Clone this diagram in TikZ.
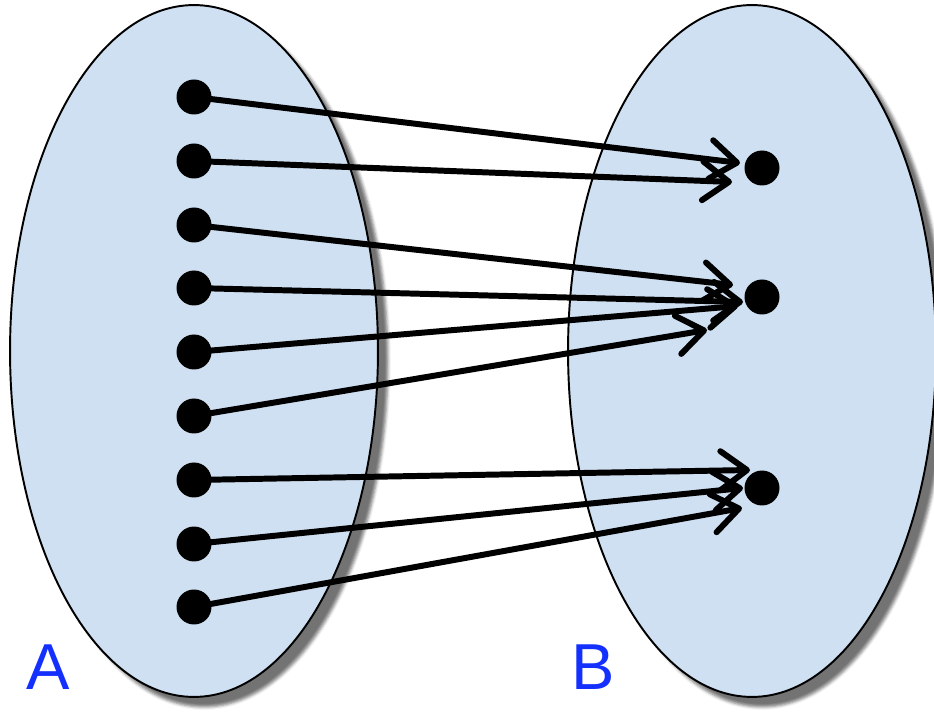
\documentclass[tikz,border=0pt]{standalone}
\usepackage{fontspec}
\newfontfamily\setfont{Liberation Sans}
\usetikzlibrary{arrows.meta,shapes.geometric,shadows.blur}
\definecolor{setfill}{RGB}{207,224,242}
\definecolor{setlabel}{RGB}{20,48,255}

\begin{document}
\begin{tikzpicture}[x=0.02cm,y=-0.02cm,
	set/.style={ellipse,draw,line width=1.1pt,fill=setfill,inner sep=0pt,
		minimum width=7.36cm,minimum height=13.84cm,
		blur shadow={shadow xshift=0.2cm,shadow yshift=-0.2cm,shadow opacity=55}},
	elem/.style={circle,fill=black,inner sep=0pt,minimum size=0.7cm},
	map/.style={line width=3.4pt,line cap=round,
		-{Straight Barb[length=15pt,width=22pt,line cap=round,round]}},
	lab/.style={text=setlabel,font=\setfont\fontsize{37}{40}\selectfont}]
	\useasboundingbox (0,0) rectangle (934,712);
	% the two sets
	\node[set] (A) at (194,351) {};
	\node[set] (B) at (752,351) {};
	\node[lab] (labA) at (48,667) {A};
	\node[lab] (labB) at (593,667) {B};
	% elements
	\foreach \i/\y in {1/97,2/161,3/225,4/288,5/352,6/416,7/480,8/544,9/607}
		\node[elem] (a\i) at (194,\y) {};
	\node[elem] (b1) at (762,168) {};
	\node[elem] (b2) at (762,297) {};
	\node[elem] (b3) at (762,488) {};
	% arrow ends
	\coordinate (t1) at (740,163);
	\coordinate (t2) at (732,182);
	\coordinate (t3) at (733,285);
	\coordinate (t4) at (743,302);
	\coordinate (t5) at (738,306);
	\coordinate (t6) at (707,330);
	\coordinate (t7) at (750,470);
	\coordinate (t8) at (743,488);
	\coordinate (t9) at (742,508);
	\foreach \i in {1,...,9}
		\draw[map] (a\i.center) -- (t\i);
\end{tikzpicture}
\end{document}
